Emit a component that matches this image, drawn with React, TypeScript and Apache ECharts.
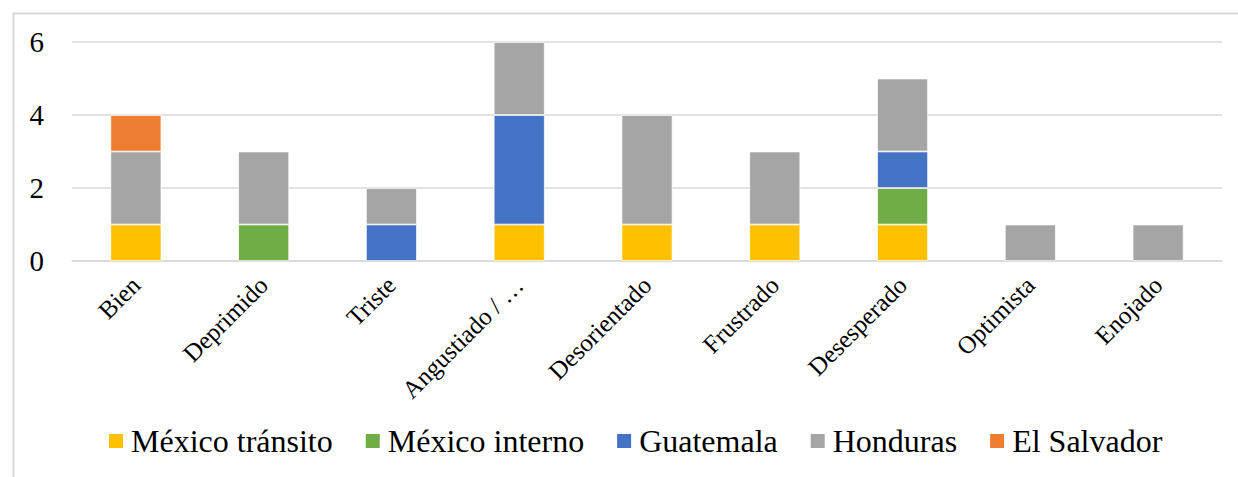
import React, { useEffect, useRef } from "react";
import * as echarts from "echarts";

const categories = [
  "Bien",
  "Deprimido",
  "Triste",
  "Angustiado / …",
  "Desorientado",
  "Frustrado",
  "Desesperado",
  "Optimista",
  "Enojado",
];

const mexicoTransito = [1, 0, 0, 1, 1, 1, 1, 0, 0];
const mexicoInterno = [0, 1, 0, 0, 0, 0, 1, 0, 0];
const guatemala = [0, 0, 1, 3, 0, 0, 1, 0, 0];
const honduras = [2, 2, 1, 2, 3, 2, 2, 1, 1];
const elSalvador = [1, 0, 0, 0, 0, 0, 0, 0, 0];

const yTicks = [0, 2, 4, 6];

const seriesDefs = [
  { name: "México tránsito", data: mexicoTransito, color: "#FFC000" },
  { name: "México interno", data: mexicoInterno, color: "#70AD47" },
  { name: "Guatemala", data: guatemala, color: "#4472C4" },
  { name: "Honduras", data: honduras, color: "#A5A5A5" },
  { name: "El Salvador", data: elSalvador, color: "#ED7D31" },
];

const FONT = "'Liberation Serif', 'Times New Roman', serif";

export default function App() {
  const ref = useRef<HTMLDivElement>(null);

  useEffect(() => {
    if (!ref.current) return;
    const chart = echarts.init(ref.current, undefined, { renderer: "svg" });
    chart.setOption({
      animation: false,
      backgroundColor: "#ffffff",
      textStyle: { fontFamily: FONT },
      graphic: [
        {
          type: "rect",
          left: 11,
          top: 11,
          shape: { x: 0, y: 0, width: 1400, height: 700 },
          style: { fill: "none", stroke: "#d9d9d9", lineWidth: 2 },
          silent: true,
          z: -1,
        },
      ],
      grid: { left: 72, right: 16, top: 42, bottom: 216, containLabel: false },
      legend: {
        left: 107,
        top: 425,
        padding: 0,
        itemWidth: 16,
        itemHeight: 16,
        itemGap: 31,
        icon: "rect",
        textStyle: { fontFamily: FONT, fontSize: 32, color: "#000", padding: [0, 0, 0, 2] },
        data: seriesDefs.map((s) => s.name),
      },
      xAxis: {
        type: "category",
        data: categories,
        axisLine: { lineStyle: { color: "#d9d9d9", width: 1.5 } },
        axisTick: { show: false },
        axisLabel: {
          rotate: 45,
          interval: 0,
          margin: 20,
          fontFamily: FONT,
          fontSize: 25,
          color: "#000",
        },
      },
      yAxis: {
        type: "value",
        min: 0,
        max: 6,
        interval: 2,
        axisLine: { show: false },
        axisTick: { show: false },
        splitLine: { lineStyle: { color: "#d9d9d9", width: 1.5 } },
        axisLabel: {
          margin: 28,
          fontFamily: FONT,
          fontSize: 29,
          color: "#000",
          formatter: (v: number) => (yTicks.includes(v) ? "{t|" + v + "}" : ""),
          rich: {
            t: { fontFamily: FONT, fontSize: 29, color: "#000" },
          },
        },
      },
      series: seriesDefs.map((s) => ({
        name: s.name,
        type: "bar",
        stack: "total",
        barWidth: 51,
        data: s.data.map((v) => (v === 0 ? null : v)),
        itemStyle: { color: s.color, borderColor: "#ffffff", borderWidth: 0.75 },
      })),
    });
    return () => chart.dispose();
  }, []);

  return (
    <div
      ref={ref}
      style={{ position: "fixed", left: 0, top: 0, width: 1238, height: 477 }}
    />
  );
}
